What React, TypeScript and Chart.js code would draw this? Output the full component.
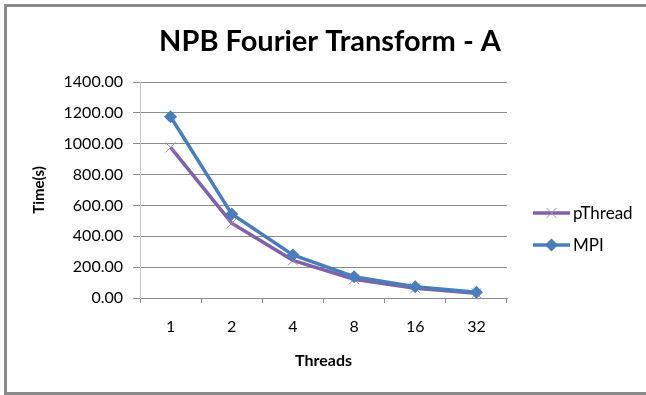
import React, { useEffect, useRef } from 'react';
import { Chart, registerables } from 'chart.js';
import { drawPoint } from 'chart.js/helpers';

Chart.register(...registerables);

const chartTitle = 'NPB Fourier Transform - A';
const xAxisTitle = 'Threads';
const yAxisTitle = 'Time(s)';
const categories = ['1', '2', '4', '8', '16', '32'];
const seriesNames = ['pThread', 'MPI'];
const pThreadValues = [976, 485, 244, 122, 63, 31];
const mpiValues = [1175, 544, 279, 138, 73, 37];
const yMin = 0;
const yMax = 1400;
const yStep = 200;

const FONT = 'Lato, "Open Sans", sans-serif';

const frame = {
  id: 'frame',
  beforeDraw(chart: any) {
    const { ctx, width, height } = chart;
    ctx.save();
    ctx.fillStyle = '#fff';
    ctx.fillRect(0, 0, width, height);
    ctx.strokeStyle = '#8a8a8a';
    ctx.lineWidth = 3;
    ctx.beginPath();
    ctx.moveTo(width + 5, 5.5);
    ctx.lineTo(5.5, 5.5);
    ctx.lineTo(5.5, height - 1.5);
    ctx.lineTo(width + 5, height - 1.5);
    ctx.stroke();
    ctx.restore();
  },
};

const sideLegend = {
  id: 'sideLegend',
  afterDraw(chart: any) {
    const { ctx, chartArea } = chart;
    const mid = (chartArea.top + chartArea.bottom) / 2 + 39;
    const x0 = chartArea.right + 26;
    chart.data.datasets.forEach((ds: any, i: number) => {
      const y = mid + (i - 0.5) * 32;
      ctx.save();
      ctx.strokeStyle = ds.borderColor;
      ctx.lineWidth = ds.borderWidth;
      ctx.beginPath();
      ctx.moveTo(x0, y);
      ctx.lineTo(x0 + 37, y);
      ctx.stroke();
      ctx.strokeStyle = ds.pointBorderColor;
      ctx.fillStyle = ds.pointBackgroundColor;
      ctx.lineWidth = ds.pointBorderWidth;
      drawPoint(ctx, { pointStyle: ds.pointStyle, radius: ds.pointRadius, borderWidth: ds.pointBorderWidth, rotation: 0 } as any, x0 + 18.5, y);
      ctx.font = `17px ${FONT}`;
      ctx.fillStyle = '#000';
      ctx.textBaseline = 'middle';
      ctx.textAlign = 'left';
      ctx.fillText(ds.label, x0 + 40, y + 1);
      ctx.restore();
    });
  },
};

export default function App() {
  const ref = useRef<HTMLCanvasElement | null>(null);

  useEffect(() => {
    let chart: Chart | null = null;
    let cancelled = false;
    const make = () => {
      if (cancelled || !ref.current) return;
      Chart.defaults.font.family = FONT;
      Chart.defaults.color = '#000';
      chart = new Chart(ref.current, {
        type: 'line',
        data: {
          labels: categories,
          datasets: [
            {
              label: seriesNames[0],
              data: pThreadValues,
              borderColor: '#7f62a8',
              borderWidth: 3.5,
              pointStyle: 'crossRot',
              pointRadius: 7,
              pointBorderWidth: 1,
              pointBorderColor: '#a18dc6',
              pointBackgroundColor: '#a18dc6',
              order: 1,
              tension: 0,
            },
            {
              label: seriesNames[1],
              data: mpiValues,
              borderColor: '#4a7ebb',
              borderWidth: 3.5,
              pointStyle: 'rectRot',
              pointRadius: 5.5,
              pointBorderWidth: 1.5,
              pointBorderColor: '#4a7ebb',
              pointBackgroundColor: '#4a7ebb',
              order: 0,
              tension: 0,
            },
          ],
        },
        options: {
          animation: false,
          responsive: false,
          devicePixelRatio: 1,
          layout: { padding: { left: 14, right: 0, top: 0, bottom: 0 } },
          plugins: {
            legend: { display: false },
            tooltip: { enabled: false },
            title: {
              display: true,
              text: chartTitle,
              color: '#000',
              font: { size: 29, weight: 'bold', family: FONT, lineHeight: 1.2 },
              padding: { top: 24.6, bottom: 22.6 },
            },
          },
          scales: {
            x: {
              type: 'category',
              offset: true,
              grid: {
                display: true,
                drawOnChartArea: false,
                drawTicks: true,
                tickLength: 5,
                offset: true,
                color: '#8c8c8c',
              },
              border: { display: true, color: '#8c8c8c', width: 1 },
              ticks: { font: { size: 16, family: FONT }, padding: 14.4, color: '#000' },
              title: {
                display: true,
                text: xAxisTitle,
                color: '#000',
                font: { size: 16, weight: 'bold', family: FONT, lineHeight: 1.2 },
                padding: { top: 0, bottom: 24.5 },
              },
              afterFit: (s: any) => { s.height = 97; },
            },
            y: {
              type: 'linear',
              position: 'left',
              min: yMin,
              max: yMax,
              ticks: {
                stepSize: yStep,
                font: { size: 16, family: FONT },
                padding: 10,
                color: '#000',
                callback: (v: any) => Number(v).toFixed(2),
              },
              grid: { color: '#8c8c8c', tickLength: 7, drawTicks: true },
              border: { display: true, color: '#c4c4c4', width: 1 },
              title: {
                display: true,
                text: yAxisTitle,
                color: '#000',
                font: { size: 15, weight: 'bold', family: FONT, lineHeight: 1.2 },
                padding: { top: 16, bottom: 0 },
              },
              afterFit: (s: any) => { s.width = 126; },
            },
            legendSpace: {
              type: 'linear',
              position: 'right',
              display: true,
              ticks: { display: false },
              grid: { display: false },
              border: { display: false },
              afterFit: (s: any) => { s.width = 139; },
            },
          },
        },
        plugins: [frame, sideLegend],
      } as any);
    };
    const fonts: any = (document as any).fonts;
    if (fonts && fonts.load) {
      Promise.all([
        fonts.load(`16px Lato`),
        fonts.load(`bold 16px Lato`),
      ]).then(make, make);
    } else {
      make();
    }
    return () => {
      cancelled = true;
      if (chart) chart.destroy();
    };
  }, []);

  return (
    <div style={{ position: 'fixed', left: 0, top: 0, width: 646, height: 395, background: '#fff', overflow: 'hidden' }}>
      <canvas ref={ref} width={646} height={395} style={{ display: 'block', width: 646, height: 395 }} />
    </div>
  );
}
